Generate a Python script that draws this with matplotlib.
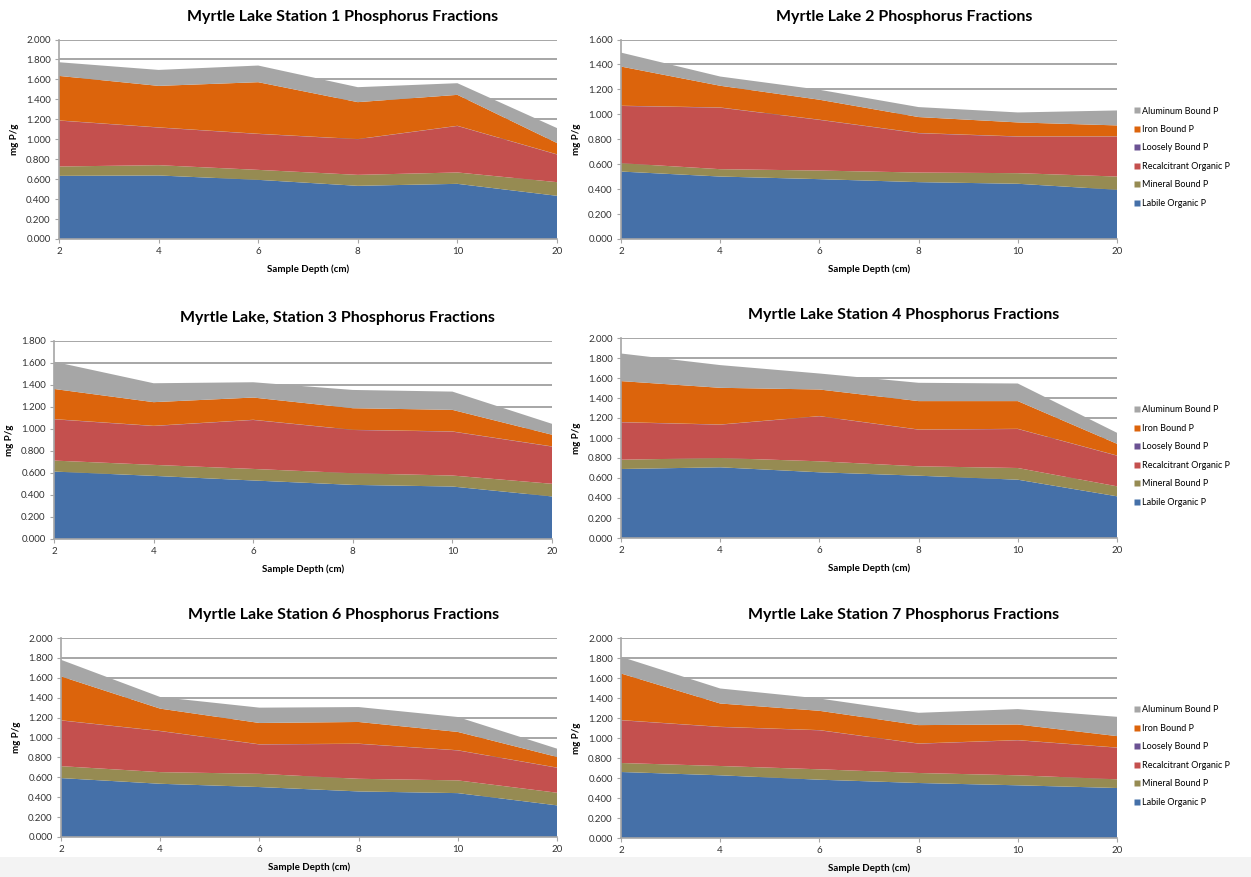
import numpy as np
import matplotlib
matplotlib.use("Agg")
import matplotlib.pyplot as plt
from matplotlib.lines import Line2D
from matplotlib.patches import Rectangle

plt.rcParams['font.family'] = ['Lato', 'DejaVu Sans']

depths = ["2", "4", "6", "8", "10", "20"]
fractions = ["Labile Organic P", "Mineral Bound P", "Recalcitrant Organic P",
             "Loosely Bound P", "Iron Bound P", "Aluminum Bound P"]
colors = ["#4570A8", "#968B52", "#C4504E", "#6B5293", "#DC640C", "#A6A6A6"]

# station 1
st1_labile = [0.633, 0.637, 0.593, 0.533, 0.553, 0.433]
st1_mineral = [0.094, 0.103, 0.100, 0.110, 0.114, 0.137]
st1_recalc = [0.460, 0.377, 0.360, 0.357, 0.466, 0.277]
st1_loose = [0.002, 0.002, 0.002, 0.002, 0.002, 0.002]
st1_iron = [0.446, 0.416, 0.517, 0.370, 0.310, 0.113]
st1_alum = [0.137, 0.160, 0.167, 0.150, 0.117, 0.150]

# station 2
st2_labile = [0.541, 0.501, 0.480, 0.456, 0.443, 0.395]
st2_mineral = [0.067, 0.059, 0.069, 0.077, 0.085, 0.106]
st2_recalc = [0.459, 0.493, 0.406, 0.315, 0.293, 0.320]
st2_loose = [0.002, 0.002, 0.002, 0.002, 0.002, 0.002]
st2_iron = [0.314, 0.174, 0.160, 0.128, 0.112, 0.088]
st2_alum = [0.112, 0.074, 0.080, 0.080, 0.080, 0.120]

# station 3
st3_labile = [0.613, 0.574, 0.532, 0.492, 0.477, 0.387]
st3_mineral = [0.100, 0.100, 0.105, 0.106, 0.100, 0.115]
st3_recalc = [0.375, 0.353, 0.445, 0.393, 0.399, 0.338]
st3_loose = [0.002, 0.002, 0.002, 0.002, 0.002, 0.002]
st3_iron = [0.274, 0.215, 0.202, 0.196, 0.196, 0.106]
st3_alum = [0.248, 0.172, 0.139, 0.166, 0.166, 0.099]

# station 4
st4_labile = [0.690, 0.707, 0.657, 0.623, 0.583, 0.417]
st4_mineral = [0.093, 0.093, 0.110, 0.094, 0.117, 0.100]
st4_recalc = [0.374, 0.333, 0.450, 0.366, 0.390, 0.306]
st4_loose = [0.002, 0.002, 0.002, 0.002, 0.002, 0.002]
st4_iron = [0.410, 0.367, 0.266, 0.284, 0.277, 0.117]
st4_alum = [0.276, 0.227, 0.160, 0.183, 0.176, 0.110]

# station 6
st6_labile = [0.592, 0.535, 0.502, 0.458, 0.441, 0.318]
st6_mineral = [0.120, 0.117, 0.133, 0.127, 0.128, 0.127]
st6_recalc = [0.459, 0.412, 0.295, 0.351, 0.301, 0.251]
st6_loose = [0.002, 0.002, 0.002, 0.002, 0.002, 0.002]
st6_iron = [0.441, 0.224, 0.214, 0.218, 0.184, 0.107]
st6_alum = [0.167, 0.117, 0.154, 0.150, 0.150, 0.083]

# station 7
st7_labile = [0.660, 0.627, 0.583, 0.550, 0.527, 0.500]
st7_mineral = [0.090, 0.093, 0.104, 0.100, 0.100, 0.087]
st7_recalc = [0.427, 0.390, 0.390, 0.293, 0.350, 0.316]
st7_loose = [0.002, 0.002, 0.002, 0.002, 0.002, 0.002]
st7_iron = [0.466, 0.233, 0.193, 0.184, 0.156, 0.114]
st7_alum = [0.167, 0.150, 0.123, 0.123, 0.154, 0.193]

W, H = 1251, 877


def rect(left, right, top, bottom):
    return [left / W, 1 - bottom / H, (right - left) / W, (bottom - top) / H]


panels = [
    ("Myrtle Lake Station 1 Phosphorus Fractions",
     [st1_labile, st1_mineral, st1_recalc, st1_loose, st1_iron, st1_alum],
     2.0, rect(59, 557, 39.5, 239), False),
    ("Myrtle Lake 2 Phosphorus Fractions",
     [st2_labile, st2_mineral, st2_recalc, st2_loose, st2_iron, st2_alum],
     1.6, rect(621, 1117, 39.5, 239), True),
    ("Myrtle Lake, Station 3 Phosphorus Fractions",
     [st3_labile, st3_mineral, st3_recalc, st3_loose, st3_iron, st3_alum],
     1.8, rect(54, 552, 341, 539), False),
    ("Myrtle Lake Station 4 Phosphorus Fractions",
     [st4_labile, st4_mineral, st4_recalc, st4_loose, st4_iron, st4_alum],
     2.0, rect(621, 1117, 338, 538), True),
    ("Myrtle Lake Station 6 Phosphorus Fractions",
     [st6_labile, st6_mineral, st6_recalc, st6_loose, st6_iron, st6_alum],
     2.0, rect(61, 557, 638, 837), False),
    ("Myrtle Lake Station 7 Phosphorus Fractions",
     [st7_labile, st7_mineral, st7_recalc, st7_loose, st7_iron, st7_alum],
     2.0, rect(621, 1117, 638, 838), True),
]

fig = plt.figure(figsize=(W / 100, H / 100), dpi=100)
fig.patches.append(Rectangle((0, 0), 1, 20 / H, transform=fig.transFigure,
                             facecolor="#F3F3F3", edgecolor="none", zorder=-1))

x = np.arange(len(depths))
grid_col = "#A6A6A6"

for title, series, ymax, pos, with_legend in panels:
    ax = fig.add_axes(pos)
    ax.stackplot(x, *series, colors=colors, linewidth=0)
    ax.set_xlim(0, len(depths) - 1)
    ax.set_ylim(0, ymax)
    ax.set_yticks(np.arange(0, ymax + 0.001, 0.2))
    ax.yaxis.set_major_formatter(matplotlib.ticker.FormatStrFormatter("%.3f"))
    ax.set_xticks(x, depths)
    ax.set_axisbelow(True)
    ax.grid(axis="y", color=grid_col, linewidth=1.4)
    for side in ("top", "right"):
        ax.spines[side].set_visible(False)
    for side in ("left", "bottom"):
        ax.spines[side].set_color(grid_col)
        ax.spines[side].set_linewidth(1.2)
    ax.tick_params(axis="both", labelsize=7, colors="#333333", length=3,
                   width=0.8, pad=3)
    ax.tick_params(axis="both", color=grid_col)
    ax.set_xlabel("Sample Depth (cm)", fontsize=7, fontweight="bold", labelpad=6)
    ax.set_ylabel("mg P/g", fontsize=7, fontweight="bold")
    ax.yaxis.set_label_coords(-0.08, 0.5)
    ax.text(0.57, 1.0 + 23 / (pos[3] * H), title, transform=ax.transAxes,
            ha="center", va="center", fontsize=11.5, fontweight="bold")

    if with_legend:
        handles = [Line2D([], [], linestyle="none", marker="s", markersize=4,
                          markerfacecolor=c, markeredgecolor="none")
                   for c in colors[::-1]]
        ax.legend(handles, fractions[::-1], loc="center left",
                  bbox_to_anchor=(1.035, 0.41), frameon=False, fontsize=6.5,
                  handlelength=0.6, handletextpad=0.3, labelspacing=1.05,
                  borderpad=0, borderaxespad=0)

fig.savefig("out.png", dpi=100)
